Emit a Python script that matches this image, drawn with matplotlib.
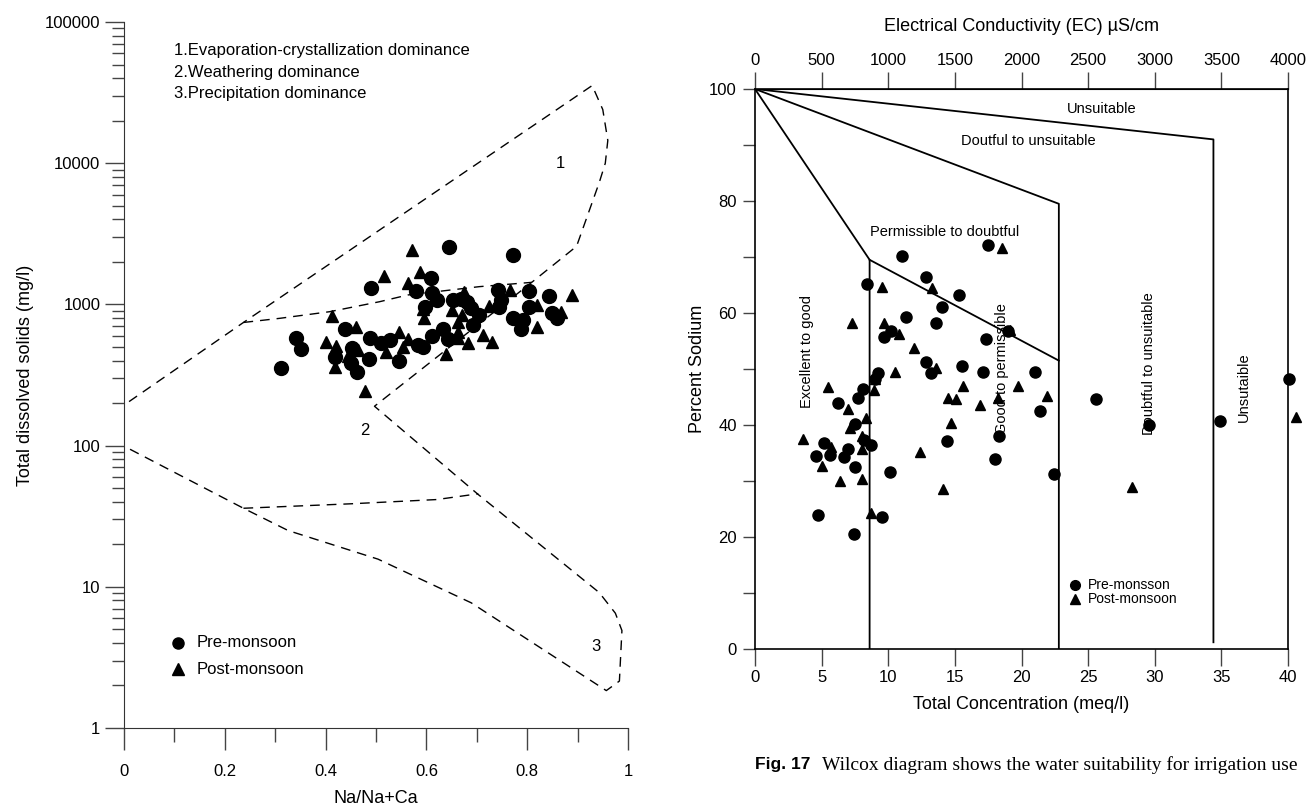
import numpy as np
import matplotlib
matplotlib.use('Agg')
import matplotlib.pyplot as plt
from matplotlib.ticker import FixedLocator, LogLocator, NullFormatter, FixedFormatter

plt.rcParams['font.family'] = ['Liberation Sans', 'DejaVu Sans']

# ---- Gibbs diagram data (left) ----
pre_nar = [0.644, 0.771, 0.609, 0.491, 0.580, 0.611, 0.622, 0.652, 0.668, 0.681, 0.688, 0.704,
           0.743, 0.748, 0.745, 0.803, 0.804, 0.844, 0.771, 0.791, 0.788, 0.850, 0.860, 0.692,
           0.633, 0.611, 0.642, 0.583, 0.593, 0.546, 0.527, 0.510, 0.488, 0.486, 0.453, 0.438,
           0.418, 0.450, 0.463, 0.341, 0.352, 0.312, 0.597]
pre_tds = [2560, 2240, 1530, 1300, 1250, 1197, 1075, 1080, 1090, 1045, 938, 841,
           1265, 1075, 964, 1245, 965, 1153, 797, 776, 670, 865, 797, 715,
           666, 597, 566, 516, 497, 399, 560, 530, 581, 411, 489, 666,
           422, 383, 334, 575, 481, 353, 953]
post_nar = [0.571, 0.516, 0.587, 0.563, 0.675, 0.766, 0.889, 0.594, 0.596, 0.651, 0.724, 0.820,
            0.867, 0.820, 0.671, 0.662, 0.662, 0.662, 0.683, 0.713, 0.731, 0.639, 0.413, 0.460,
            0.401, 0.421, 0.418, 0.479, 0.546, 0.563, 0.554, 0.519, 0.465, 0.444]
post_tds = [2430, 1590, 1706, 1410, 1225, 1265, 1167, 923, 797, 918, 972, 985,
            884, 688, 841, 755, 641, 574, 530, 607, 538, 445, 832, 688,
            538, 510, 359, 245, 633, 566, 497, 462, 478, 431]

# Gibbs boundary (dashed)
gibbs_outer_x = [0.01, 0.237, 0.929, 0.950, 0.960, 0.955, 0.943, 0.898, 0.809, 0.497, 0.703,
                 0.943, 0.975, 0.988, 0.983, 0.957, 0.689, 0.504, 0.326, 0.237, 0.01]
gibbs_outer_y = [205, 745, 35500, 24000, 14500, 10000, 7300, 2580, 1433, 190, 45,
                 9.1, 6.5, 4.9, 2.15, 1.84, 7.7, 15.7, 25, 36, 95]
gibbs_mid_x = [0.237, 0.309, 0.408, 0.507, 0.563, 0.705, 0.809]
gibbs_mid_y = [745, 797, 888, 1045, 1166, 1336, 1433]
gibbs_low_x = [0.237, 0.449, 0.621, 0.703]
gibbs_low_y = [36, 38.7, 41.5, 45.6]

# ---- Wilcox diagram data (right) ----
pre_tc = [17.5, 11.0, 8.4, 12.8, 15.3, 14.0, 11.3, 13.6, 19.0, 10.2, 9.7, 17.3, 12.8, 13.2, 15.5,
          17.1, 9.2, 9.0, 8.1, 7.7, 6.2, 7.5, 8.7, 8.2, 5.2, 7.0, 5.6, 4.6, 6.7, 7.5, 14.4, 18.3,
          18.0, 10.1, 4.7, 7.4, 9.5, 21.4, 21.0, 25.6, 22.4, 34.9, 40.1, 29.6]
pre_na = [72.1, 70.2, 65.2, 66.4, 63.3, 61.0, 59.2, 58.3, 56.8, 56.7, 55.7, 55.3, 51.2, 49.3, 50.6,
          49.5, 49.2, 48.3, 46.4, 44.8, 43.9, 40.1, 36.5, 37.4, 36.8, 35.8, 34.6, 34.4, 34.2, 32.5,
          37.1, 38.0, 33.9, 31.6, 24.0, 20.5, 23.6, 42.5, 49.4, 44.7, 31.3, 40.7, 48.3, 40.0]
post_tc = [18.5, 9.5, 13.3, 7.3, 9.7, 10.8, 19.1, 11.9, 13.6, 10.5, 9.0, 15.6, 19.7, 5.5, 8.9,
           14.5, 15.1, 16.9, 18.2, 7.0, 8.3, 14.7, 7.1, 3.6, 5.7, 8.0, 8.0, 5.0, 12.4, 6.4, 8.0,
           14.1, 8.7, 21.9, 28.3, 40.6]
post_na = [71.6, 64.6, 64.5, 58.3, 58.3, 56.2, 57.0, 53.7, 50.2, 49.4, 48.2, 46.9, 47.0, 46.7, 46.3,
           44.8, 44.7, 43.5, 44.8, 42.8, 41.3, 40.3, 39.5, 37.5, 36.0, 38.0, 35.8, 32.7, 35.2, 30.0,
           30.3, 28.5, 24.3, 45.1, 28.9, 41.4]

# Wilcox class boundaries
wil_lines = [
    ([0, 8.6, 8.6], [100, 69.5, 0]),
    ([8.6, 22.8], [69.5, 51.5]),
    ([0, 22.8, 22.8], [100, 79.5, 0]),
    ([0, 34.4, 34.4], [100, 91.0, 1.2]),
]

fig = plt.figure(figsize=(13.11, 8.07), dpi=100)

# ================= left: Gibbs =================
ax = fig.add_axes([0.0946, 0.0979, 0.3844, 0.8748])
ax.set_yscale('log')
ax.set_xlim(0, 1)
ax.set_ylim(1, 100000)
ax.plot(gibbs_outer_x, gibbs_outer_y, 'k--', lw=1, dashes=(7, 5))
ax.plot(gibbs_mid_x, gibbs_mid_y, 'k--', lw=1, dashes=(7, 5))
ax.plot(gibbs_low_x, gibbs_low_y, 'k--', lw=1, dashes=(7, 5))
ax.plot(pre_nar, pre_tds, 'o', color='k', ms=10, ls='none')
ax.plot(post_nar, post_tds, '^', color='k', ms=8.5, ls='none')

for s in ['top', 'right']:
    ax.spines[s].set_visible(False)
for s in ['left', 'bottom']:
    ax.spines[s].set_color('#333333')
ax.xaxis.set_major_locator(FixedLocator([0, 0.2, 0.4, 0.6, 0.8, 1.0]))
ax.xaxis.set_minor_locator(FixedLocator([0.1, 0.3, 0.5, 0.7, 0.9]))
ax.set_xticklabels(['0', '0.2', '0.4', '0.6', '0.8', '1'])
ax.yaxis.set_major_locator(FixedLocator([1, 10, 100, 1000, 10000, 100000]))
ax.yaxis.set_major_formatter(FixedFormatter(['1', '10', '100', '1000', '10000', '100000']))
ax.yaxis.set_minor_locator(LogLocator(base=10, subs=np.arange(2, 10), numticks=20))
ax.yaxis.set_minor_formatter(NullFormatter())
ax.tick_params(axis='x', which='major', length=16, width=1, color='#444444', labelsize=12, pad=10)
ax.tick_params(axis='x', which='minor', length=10, width=1, color='#444444')
ax.tick_params(axis='y', which='major', length=14, width=1, color='#444444', labelsize=12, pad=3)
ax.tick_params(axis='y', which='minor', length=9, width=1, color='#444444')
ax.set_xlabel('Na/Na+Ca', fontsize=13, labelpad=8)
ax.set_ylabel('Total dissolved solids (mg/l)', fontsize=13, labelpad=8)

ax.text(0.1, 0.97, '1.Evaporation-crystallization dominance\n2.Weathering dominance\n3.Precipitation dominance',
        transform=ax.transAxes, fontsize=12, va='top', ha='left', linespacing=1.55)
ax.text(0.866, 10000, '1', fontsize=12, ha='center', va='center')
ax.text(0.477, 128, '2', fontsize=12, ha='center', va='center')
ax.text(0.936, 3.8, '3', fontsize=12, ha='center', va='center')

# legend
ax.plot([0.108], [4.0], 'o', color='k', ms=8)
ax.plot([0.108], [2.6], '^', color='k', ms=8)
ax.text(0.145, 4.0, 'Pre-monsoon', fontsize=12, va='center')
ax.text(0.145, 2.6, 'Post-monsoon', fontsize=12, va='center')

# ================= right: Wilcox =================
bx = fig.add_axes([0.5759, 0.1958, 0.4066, 0.6939])
bx.set_xlim(0, 40)
bx.set_ylim(0, 100)
for xs, ys in wil_lines:
    bx.plot(xs, ys, color='k', lw=1.3)
bx.plot(pre_tc, pre_na, 'o', color='k', ms=8, ls='none', clip_on=False)
bx.plot(post_tc, post_na, '^', color='k', ms=7, ls='none', clip_on=False)

for s in bx.spines.values():
    s.set_linewidth(1.2)
bx.xaxis.set_major_locator(FixedLocator(np.arange(0, 41, 5)))
bx.yaxis.set_major_locator(FixedLocator(np.arange(0, 101, 20)))
bx.yaxis.set_minor_locator(FixedLocator(np.arange(10, 100, 20)))
bx.tick_params(axis='x', which='major', length=12, width=1, color='#444444', labelsize=12, pad=3)
bx.tick_params(axis='y', which='major', length=9, width=1, color='#444444', labelsize=12, pad=4)
bx.tick_params(axis='y', which='minor', length=9, width=1, color='#444444')
bx.set_xlabel('Total Concentration (meq/l)', fontsize=13, labelpad=8)
bx.set_ylabel('Percent Sodium', fontsize=13, labelpad=2)

top = bx.secondary_xaxis('top', functions=(lambda v: v * 100, lambda v: v / 100))
top.xaxis.set_major_locator(FixedLocator(np.arange(0, 4001, 500)))
top.tick_params(axis='x', length=12, width=1, color='#444444', labelsize=12, pad=3)
top.set_xlabel('Electrical Conductivity (EC) µS/cm', fontsize=13, labelpad=16)

bx.text(26.0, 96.4, 'Unsuitable', fontsize=10.5, ha='center', va='center')
bx.text(20.5, 90.8, 'Doutful to unsuitable', fontsize=10.5, ha='center', va='center')
bx.text(14.2, 74.5, 'Permissible to doubtful', fontsize=10.5, ha='center', va='center')
bx.text(3.9, 53.1, 'Excellent to good', fontsize=10.5, ha='center', va='center', rotation=90)
bx.text(18.5, 50.0, 'Good to permissible', fontsize=10.5, ha='center', va='center', rotation=90)
bx.text(29.6, 51.0, 'Doubtful to unsuitable', fontsize=10.5, ha='center', va='center', rotation=90)
bx.text(36.7, 46.8, 'Unsutaible', fontsize=10.5, ha='center', va='center', rotation=90)

bx.plot([24.0], [11.4], 'o', color='k', ms=7)
bx.plot([24.0], [8.9], '^', color='k', ms=7)
bx.text(25.0, 11.4, 'Pre-monsson', fontsize=10, va='center')
bx.text(25.0, 8.9, 'Post-monsoon', fontsize=10, va='center')

# caption
fig.text(755 / 1311, 1 - 765 / 807, 'Fig. 17', fontsize=12.5, fontweight='bold', va='center', ha='left')
fig.text(822 / 1311, 1 - 765 / 807, 'Wilcox diagram shows the water suitability for irrigation use',
         fontsize=14, family=['Liberation Serif', 'DejaVu Serif'], va='center', ha='left')

fig.savefig('out.png', dpi=100)
